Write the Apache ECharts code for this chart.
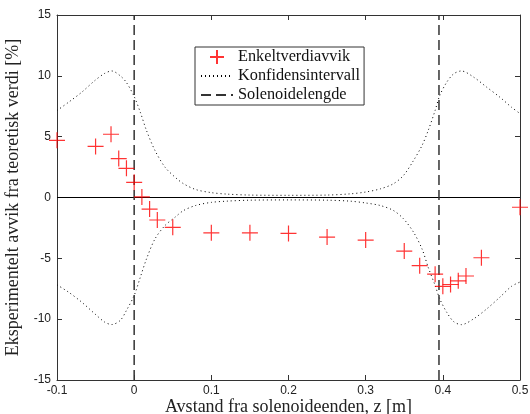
<!DOCTYPE html>
<html>
	<head>
		<meta charset="UTF-8">
		<title></title>
		<script src="https://cdn.jsdelivr.net/npm/echarts@6/dist/echarts.min.js"></script>
	</head>
	<style>
		html,body{margin:0;padding:0;background:#fff;}
		#box{width:530px;height:414px;}
	</style>
	<body>
		<div id="box"></div>
	</body>
	<script>
		// enkeltverdier (z i m, avvik i %)
		var zPts = [-0.1, -0.05, -0.03, -0.02, -0.01, 0, 0.01, 0.02, 0.03, 0.05, 0.1, 0.15, 0.2, 0.25, 0.3, 0.35, 0.37, 0.39, 0.40, 0.41, 0.42, 0.43, 0.45, 0.5];
		var avvik = [4.7, 4.2, 5.2, 3.2, 2.4, 1.25, 0.05, -0.95, -1.85, -2.45, -2.9, -2.9, -2.95, -3.25, -3.5, -4.4, -5.6, -6.3, -7.3, -7.15, -6.85, -6.45, -4.95, -0.8];

		// konfidensintervall, lest av bildet
		var ciZ = [-0.1, -0.085, -0.068, -0.051, -0.038, -0.029, -0.018, -0.01, 0, 0.008, 0.016, 0.027, 0.04, 0.053, 0.064, 0.08, 0.1, 0.12, 0.15, 0.2, 0.25, 0.28, 0.3, 0.319, 0.336, 0.349, 0.362, 0.373, 0.381, 0.39, 0.396, 0.405, 0.414, 0.424, 0.44, 0.457, 0.474, 0.489, 0.5];
		var ciOver = [7.15, 7.83, 8.65, 9.61, 10.21, 10.4, 10.0, 9.45, 8.3, 7.0, 5.5, 3.86, 2.49, 1.67, 1.13, 0.65, 0.4, 0.28, 0.2, 0.18, 0.2, 0.3, 0.45, 0.71, 1.13, 1.81, 3.04, 4.27, 5.5, 7.15, 8.38, 9.47, 10.16, 10.4, 9.89, 9.06, 8.24, 7.42, 6.9];
		var ciUnder = [-7.18, -7.78, -8.6, -9.56, -10.25, -10.44, -10.1, -9.28, -8.05, -6.55, -5.04, -3.4, -2.3, -1.62, -1.07, -0.65, -0.4, -0.3, -0.22, -0.2, -0.22, -0.3, -0.45, -0.66, -1.07, -1.75, -2.85, -4.22, -5.73, -7.23, -8.33, -9.43, -10.2, -10.45, -9.97, -9.15, -8.19, -7.3, -6.95];

		var solenoide = [0, 0.395];
		var xTicks = [-0.1, 0.5, 0.1];
		var yTicks = [-15, 15, 5];

		var crossPath = 'path://M0,5 L10,5 M5,0 L5,10';
		var serif = '"Liberation Serif", "DejaVu Serif", serif';
		var sans = '"Liberation Sans", Arial, sans-serif';
		var noSymbol = {color: 'rgba(0,0,0,0)', borderWidth: 0};

		function pairs(xs, ys) {
			return xs.map(function (x, i) { return [x, ys[i]]; });
		}

		var chart = echarts.init(document.getElementById('box'));

		var axisBase = {
			axisLine: {show: true, onZero: false, lineStyle: {color: '#333', width: 1}},
			axisTick: {show: true, inside: true, length: 5, lineStyle: {color: '#333'}},
			splitLine: {show: false}
		};

		var series = [
			{
				name: 'zero', type: 'line', data: [[-0.1, 0], [0.5, 0]],
				symbol: 'none', silent: true,
				lineStyle: {color: '#000', width: 1}, z: 1
			},
			{
				name: 'Konfidensintervall', type: 'line', data: pairs(ciZ, ciOver),
				smooth: 0.3, symbol: 'none',
				lineStyle: {color: '#000', width: 1, type: [1, 3]}
			},
			{
				name: 'Konfidensintervall', type: 'line', data: pairs(ciZ, ciUnder),
				smooth: 0.3, symbol: 'none',
				lineStyle: {color: '#000', width: 1, type: [1, 3]}
			}
		];
		solenoide.forEach(function (z) {
			series.push({
				name: 'Solenoidelengde', type: 'line', data: [[z, yTicks[0]], [z, yTicks[1]]],
				symbol: 'none',
				lineStyle: {color: '#333', width: 1.5, type: [10, 5]}
			});
		});
		series.push({
			name: 'Enkeltverdiavvik', type: 'scatter', data: pairs(zPts, avvik),
			symbol: crossPath, symbolSize: 16,
			itemStyle: {color: 'rgba(0,0,0,0)', borderColor: '#ff0000', borderWidth: 1.2},
			z: 5
		});

		chart.setOption({
			animation: false,
			grid: {left: 57, right: 10, top: 15, bottom: 34, show: false, outerBoundsMode: 'none', containLabel: false},
			legend: {
				orient: 'vertical',
				left: 195, top: 47,
				padding: [2, 4, 2, 5],
				itemGap: 3,
				itemWidth: 32, itemHeight: 14,
				borderColor: '#333', borderWidth: 1,
				backgroundColor: '#fff',
				textStyle: {fontFamily: serif, fontSize: 16.3, color: '#111'},
				data: [
					{name: 'Enkeltverdiavvik', icon: crossPath},
					{name: 'Konfidensintervall', itemStyle: noSymbol},
					{name: 'Solenoidelengde', itemStyle: noSymbol}
				]
			},
			xAxis: [
				Object.assign({}, axisBase, {
					type: 'value', position: 'bottom',
					min: xTicks[0], max: xTicks[1], interval: xTicks[2],
					axisLabel: {
						margin: 5, fontFamily: sans, fontSize: 12, color: '#222',
						formatter: function (v) { return Math.abs(v) < 1e-9 ? '0' : (+v.toFixed(1)).toString(); }
					},
					name: 'Avstand fra solenoideenden, z [m]',
					nameLocation: 'middle', nameGap: 18, nameMoveOverlap: false,
					nameTextStyle: {fontFamily: serif, fontSize: 18, color: '#222', verticalAlign: 'top'}
				}),
				Object.assign({}, axisBase, {
					type: 'value', position: 'top',
					min: xTicks[0], max: xTicks[1], interval: xTicks[2],
					axisLabel: {show: false}
				})
			],
			yAxis: [
				Object.assign({}, axisBase, {
					type: 'value', position: 'left',
					min: yTicks[0], max: yTicks[1], interval: yTicks[2],
					axisLabel: {margin: 6, fontFamily: sans, fontSize: 12, color: '#222'},
					name: 'Eksperimentelt avvik fra teoretisk verdi [%]',
					nameLocation: 'middle', nameGap: 32,
					nameTextStyle: {fontFamily: serif, fontSize: 18, color: '#222'}
				}),
				Object.assign({}, axisBase, {
					type: 'value', position: 'right',
					min: yTicks[0], max: yTicks[1], interval: yTicks[2],
					axisLabel: {show: false}
				})
			],
			series: series
		});
	</script>
</html>
